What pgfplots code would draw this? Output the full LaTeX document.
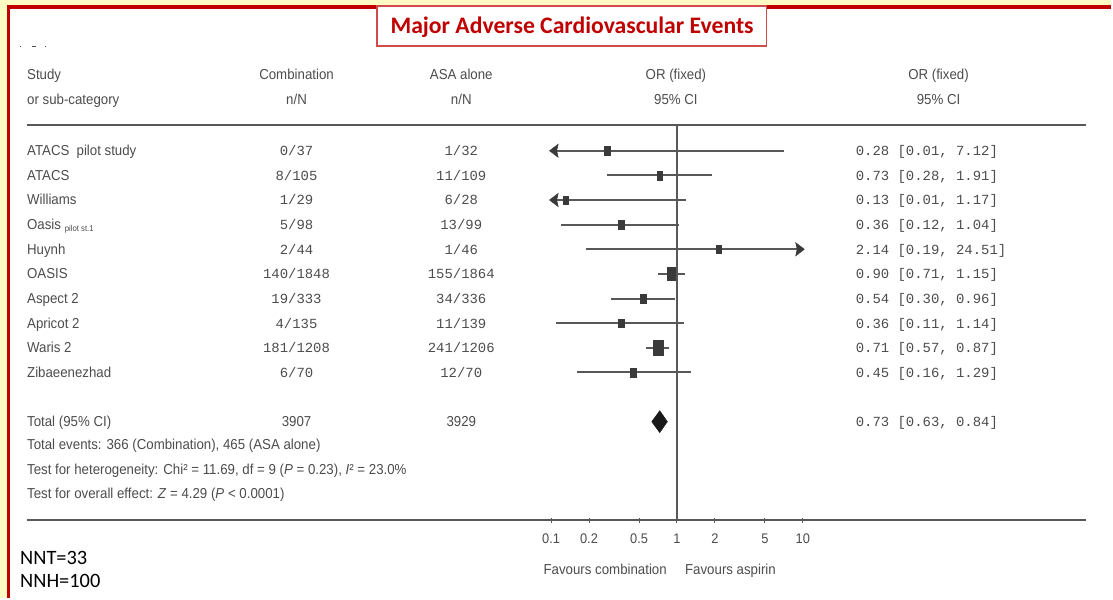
\documentclass[border=0pt]{standalone}
\usepackage{pgfplots}
\pgfplotsset{compat=1.18}
\usepackage{pgfplotstable}
\usepackage{fontspec}
\setmainfont{Liberation Sans}
\newfontfamily\nar[FakeStretch=0.92]{Liberation Sans}
\newfontfamily\mono{Liberation Mono}
\newfontfamily\calfont{Carlito}

\definecolor{bgyellow}{HTML}{FFFBC4}
\definecolor{framered}{HTML}{C00000}
\definecolor{boxred}{HTML}{D24B4B}
\definecolor{txt}{HTML}{4D4D4D}
\definecolor{ln}{HTML}{585858}
\definecolor{mk}{HTML}{3A3A3A}

% study markers: upright rectangles, size set per study
\pgfdeclareplotmark{vrect}{%
  \pgfpathrectangle{\pgfpoint{-0.66\pgfplotmarksize}{-\pgfplotmarksize}}%
                   {\pgfpoint{1.32\pgfplotmarksize}{2\pgfplotmarksize}}%
  \pgfusepathqfillstroke}
% arrowheads for intervals running past the scale
\pgfdeclareplotmark{larr}{%
  \pgfpathmoveto{\pgfpoint{-1.5bp}{0bp}}%
  \pgfpathlineto{\pgfpoint{7bp}{6.5bp}}%
  \pgfpathlineto{\pgfpoint{5.5bp}{0bp}}%
  \pgfpathlineto{\pgfpoint{7bp}{-6.5bp}}%
  \pgfpathclose\pgfusepathqfillstroke}
\pgfdeclareplotmark{rarr}{%
  \pgfpathmoveto{\pgfpoint{1.5bp}{0bp}}%
  \pgfpathlineto{\pgfpoint{-7bp}{6.5bp}}%
  \pgfpathlineto{\pgfpoint{-5.5bp}{0bp}}%
  \pgfpathlineto{\pgfpoint{-7bp}{-6.5bp}}%
  \pgfpathclose\pgfusepathqfillstroke}

% y: vertical position of each study row (15 = first row)
\pgfplotstableread{
y  or    lo    hi     ms
15 0.28  0.01  7.12   4.3
14 0.73  0.28  1.91   4.4
13 0.13  0.01  1.17   4.0
12 0.36  0.12  1.04   4.4
11 2.14  0.19  24.51  4.0
10 0.90  0.71  1.15   6.3
9  0.54  0.30  0.96   4.7
8  0.36  0.11  1.14   4.4
7  0.71  0.57  0.87   7.2
6  0.45  0.16  1.29   4.4
}\studies

\tikzset{
  L/.style={anchor=base west, inner sep=0pt, text=txt, font=\nar\fontsize{14.5}{16}\selectfont},
  C/.style={anchor=base, inner sep=0pt, text=txt, font=\nar\fontsize{14.5}{16}\selectfont},
  M/.style={anchor=base, inner sep=0pt, text=txt, font=\mono\fontsize{14}{16}\selectfont},
  ML/.style={anchor=base west, inner sep=0pt, text=txt, font=\mono\fontsize{14}{16}\selectfont},
}

\begin{document}
\begin{tikzpicture}
\begin{scope}[shift={(0bp,599bp)}, x=1bp, y=-1bp]
  % page background and frame
  \fill[bgyellow] (0,0) rectangle (1113,599);
  \fill[white] (8.7,7) rectangle (1113,599);
  \draw[framered, line width=3.5bp] (8.7,599) -- (8.7,7) -- (1113,7);
  % title box
  \draw[boxred, line width=1.3bp, fill=white] (377.5,6) rectangle (768,46);
  \node[anchor=base, inner sep=0pt, text=framered, font=\calfont\bfseries\fontsize{23.8}{26}\selectfont] at (573,34) {Major Adverse Cardiovascular Events};
  % small marks above the header
  \draw[txt, line width=1bp] (20,47) -- (21.5,47) (32,47) -- (36,47) (45,47) -- (46.5,47);

  % column headers
  \node[L] at (27,80) {Study};
  \node[L] at (27,105) {or sub-category};
  \node[C] at (297,80) {Combination};
  \node[C] at (297,105) {n/N};
  \node[C] at (462,80) {ASA alone};
  \node[C] at (462,105) {n/N};
  \node[C] at (677,80) {OR (fixed)};
  \node[C] at (677,105) {95\% CI};
  \node[C] at (940,80) {OR (fixed)};
  \node[C] at (940,105) {95\% CI};

  % rules
  \draw[ln, line width=1.6bp] (27,125) -- (1088,125);
  \draw[ln, line width=1.6bp] (27,521) -- (1088,521);

  % study rows
  \node[L] at (27,156)   {ATACS\enspace pilot study};
  \node[L] at (27,180.7) {ATACS};
  \node[L] at (27,205.3) {Williams};
  \node[L] at (27,230)   {Oasis \raisebox{-2bp}{\fontsize{8.5}{9}\selectfont pilot st.1}};
  \node[L] at (27,254.7) {Huynh};
  \node[L] at (27,279.3) {OASIS};
  \node[L] at (27,304)   {Aspect 2};
  \node[L] at (27,328.7) {Apricot 2};
  \node[L] at (27,353.3) {Waris 2};
  \node[L] at (27,378)   {Zibaeenezhad};

  \node[M] at (297,156)   {0/37};
  \node[M] at (297,180.7) {8/105};
  \node[M] at (297,205.3) {1/29};
  \node[M] at (297,230)   {5/98};
  \node[M] at (297,254.7) {2/44};
  \node[M] at (297,279.3) {140/1848};
  \node[M] at (297,304)   {19/333};
  \node[M] at (297,328.7) {4/135};
  \node[M] at (297,353.3) {181/1208};
  \node[M] at (297,378)   {6/70};

  \node[M] at (462,156)   {1/32};
  \node[M] at (462,180.7) {11/109};
  \node[M] at (462,205.3) {6/28};
  \node[M] at (462,230)   {13/99};
  \node[M] at (462,254.7) {1/46};
  \node[M] at (462,279.3) {155/1864};
  \node[M] at (462,304)   {34/336};
  \node[M] at (462,328.7) {11/139};
  \node[M] at (462,353.3) {241/1206};
  \node[M] at (462,378)   {12/70};

  \node[ML] at (857,156)   {0.28 [0.01, 7.12]};
  \node[ML] at (857,180.7) {0.73 [0.28, 1.91]};
  \node[ML] at (857,205.3) {0.13 [0.01, 1.17]};
  \node[ML] at (857,230)   {0.36 [0.12, 1.04]};
  \node[ML] at (857,254.7) {2.14 [0.19, 24.51]};
  \node[ML] at (857,279.3) {0.90 [0.71, 1.15]};
  \node[ML] at (857,304)   {0.54 [0.30, 0.96]};
  \node[ML] at (857,328.7) {0.36 [0.11, 1.14]};
  \node[ML] at (857,353.3) {0.71 [0.57, 0.87]};
  \node[ML] at (857,378)   {0.45 [0.16, 1.29]};

  % pooled result and tests
  \node[L] at (27,427.5)  {Total (95\% CI)};
  \node[C] at (297,427.5) {3907};
  \node[C] at (462,427.5) {3929};
  \node[ML] at (857,427.5) {0.73 [0.63, 0.84]};
  \node[L] at (27,450) {Total events: 366 (Combination), 465 (ASA alone)};
  \node[L] at (27,475) {Test for heterogeneity: Chi² = 11.69, df = 9 (\textit{P} = 0.23), \textit{I}² = 23.0\%};
  \node[L] at (27,499) {Test for overall effect: \textit{Z} = 4.29 (\textit{P} < 0.0001)};

  % direction labels
  \node[anchor=base east, inner sep=0pt, text=txt, font=\nar\fontsize{14.5}{16}\selectfont] at (668,575) {Favours combination};
  \node[L] at (686,575) {Favours aspirin};

  % notes
  \node[anchor=base west, inner sep=0pt, font=\calfont\fontsize{20.5}{22}\selectfont] at (20,565.7) {NNT=33};
  \node[anchor=base west, inner sep=0pt, font=\calfont\fontsize{20.5}{22}\selectfont] at (20,588.3) {NNH=100};
\end{scope}

\begin{axis}[
  at={(552bp,78bp)}, anchor=south west,
  scale only axis, width=252bp, height=396bp,
  xmode=log, xmin=0.1, xmax=10,
  ymin=0, ymax=16.054,
  axis line style={draw=none},
  ytick=\empty,
  xtick={0.1,0.2,0.5,1,2,5,10},
  xticklabels={0.1,0.2,0.5,1,2,5,10},
  xminorticks=false,
  xtick pos=left,
  tick align=center,
  major tick length=5bp,
  tick style={ln, line width=1bp},
  xticklabel style={font=\nar\fontsize{14}{16}\selectfont, text=txt, yshift=-8bp},
  clip=true,
]
  % line of no effect
  \addplot[ln, line width=1.3bp] coordinates {(1,0) (1,16.054)};
  % confidence intervals
  \addplot[only marks, mark=none, error bars/.cd, x dir=both, x explicit,
           error mark=none, error bar style={ln, line width=2bp}]
    table[x=or, y=y, x error plus expr=\thisrow{hi}-\thisrow{or},
          x error minus expr=\thisrow{or}-\thisrow{lo}] {\studies};
  % arrowheads where an interval runs past the scale
  \addplot[only marks, mark=larr, color=mk, mark options={line width=0.6bp}] coordinates {(0.1,15) (0.1,13)};
  \addplot[only marks, mark=rarr, color=mk, mark options={line width=0.6bp}] coordinates {(10,11)};
  % point estimates, sized by weight
  \addplot[scatter, only marks, mark=vrect,
           scatter/use mapped color={draw=mk, fill=mk},
           visualization depends on={\thisrow{ms} \as \msize},
           scatter/@pre marker code/.append style={/tikz/mark size=\msize}]
    table[x=or, y=y] {\studies};
  % pooled estimate
  \addplot[fill=black!90, draw=black!90] coordinates {(0.63,4) (0.73,4.446) (0.84,4) (0.73,3.554) (0.63,4)};
\end{axis}
\end{tikzpicture}
\end{document}
